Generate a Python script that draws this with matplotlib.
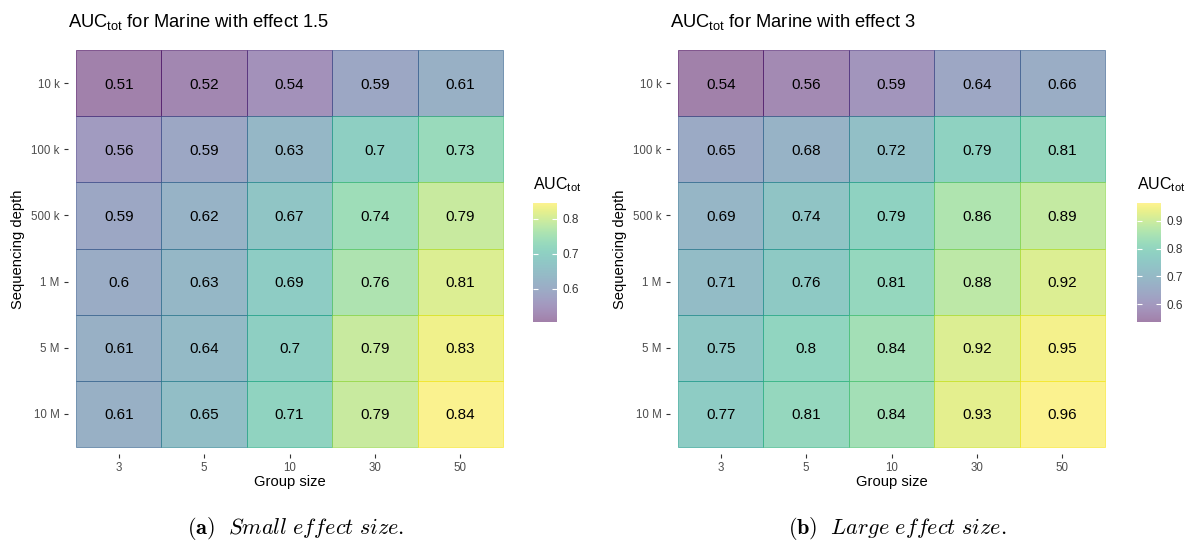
import matplotlib
matplotlib.use('Agg')
import matplotlib.pyplot as plt
import numpy as np
from matplotlib.patches import Rectangle
from matplotlib.colors import Normalize

plt.rcParams['font.family'] = ['Liberation Sans', 'DejaVu Sans']
plt.rcParams['mathtext.fontset'] = 'custom'
plt.rcParams['mathtext.rm'] = 'Liberation Sans'
plt.rcParams['mathtext.it'] = 'Liberation Sans:italic'
plt.rcParams['mathtext.bf'] = 'Liberation Sans:bold'

group_sizes = ['3', '5', '10', '30', '50']
depths = ['10 k', '100 k', '500 k', '1 M', '5 M', '10 M']

# rows = sequencing depth (top to bottom), cols = group size
auc_small = [
    [0.51, 0.52, 0.54, 0.59, 0.61],
    [0.56, 0.59, 0.63, 0.70, 0.73],
    [0.59, 0.62, 0.67, 0.74, 0.79],
    [0.60, 0.63, 0.69, 0.76, 0.81],
    [0.61, 0.64, 0.70, 0.79, 0.83],
    [0.61, 0.65, 0.71, 0.79, 0.84],
]
auc_large = [
    [0.54, 0.56, 0.59, 0.64, 0.66],
    [0.65, 0.68, 0.72, 0.79, 0.81],
    [0.69, 0.74, 0.79, 0.86, 0.89],
    [0.71, 0.76, 0.81, 0.88, 0.92],
    [0.75, 0.80, 0.84, 0.92, 0.95],
    [0.77, 0.81, 0.84, 0.93, 0.96],
]
ticks_small = [0.6, 0.7, 0.8]
ticks_large = [0.6, 0.7, 0.8, 0.9]

W, H = 1185, 542
fig = plt.figure(figsize=(W / 100, H / 100), dpi=100)
cmap = plt.get_cmap('viridis')
tick_col = '#4D4D4D'


def px(x0, y0, w, h):
    # pixel box (top-left origin) -> figure fraction rect
    return [x0 / W, 1 - (y0 + h) / H, w / W, h / H]


def heatmap(xoff, vals, effect, cbticks):
    arr = np.array(vals)
    lo, hi = arr.min() - 0.005, arr.max() + 0.005
    norm = Normalize(lo, hi)

    ax = fig.add_axes(px(67.5 + xoff, 43.4, 444, 410.2))
    for i, row in enumerate(vals):
        for j, v in enumerate(row):
            c = cmap(norm(v))
            ax.add_patch(Rectangle((j - 0.5, i - 0.5), 1, 1,
                                   facecolor=(c[0], c[1], c[2], 0.5),
                                   edgecolor=c, lw=0.4))
            ax.text(j, i, f'{v:g}', ha='center', va='center_baseline',
                    fontsize=11, color='black')
    ax.set_xlim(-0.6, 4.6)
    ax.set_ylim(5.6, -0.6)
    for s in ax.spines.values():
        s.set_visible(False)
    ax.set_xticks(range(len(group_sizes)))
    ax.set_xticklabels(group_sizes)
    ax.set_yticks(range(len(depths)))
    ax.set_yticklabels(depths)
    ax.tick_params(colors='#333333', labelcolor=tick_col, labelsize=8.3,
                   length=2.8, width=0.8, pad=3)

    fig.text((68 + xoff) / W, 1 - 26.5 / H,
             r'AUC$_{\mathrm{tot}}$ for Marine with effect ' + effect,
             fontsize=13.2, ha='left', va='baseline')
    fig.text((18 + xoff) / W, 1 - 249 / H, 'Sequencing depth', rotation=90,
             fontsize=10.6, ha='center', va='center')
    fig.text((289.5 + xoff) / W, 1 - 482 / H, 'Group size',
             fontsize=10.6, ha='center', va='center')

    # colour bar
    cbx = 533 + xoff + (2 if xoff else 0)
    cax = fig.add_axes(px(cbx, 203, 24, 119))
    grad = np.linspace(lo, hi, 300).reshape(-1, 1)
    cax.imshow(grad, aspect='auto', cmap=cmap, norm=norm, alpha=0.5,
               origin='lower', extent=[0, 1, lo, hi])
    cax.set_xticks([])
    cax.set_yticks(cbticks)
    cax.set_yticklabels([f'{t:g}' for t in cbticks])
    cax.tick_params(axis='y', direction='in', left=True, right=True,
                    labelleft=False, labelright=True, color='white',
                    length=3.5, width=0.8, labelsize=8.5,
                    labelcolor='#333333', pad=4)
    for s in cax.spines.values():
        s.set_visible(False)
    fig.text(cbx / W, 1 - 189 / H, r'AUC$_{\mathrm{tot}}$', fontsize=11.5,
             ha='left', va='baseline')


heatmap(0, auc_small, '1.5', ticks_small)
heatmap(602, auc_large, '3', ticks_large)

fig.text(296 / W, 1 - 529 / H,
         r'$\mathbf{(a)}\ \ \mathit{Small\ effect\ size.}$',
         fontsize=16, ha='center', va='center', math_fontfamily='cm')
fig.text(897 / W, 1 - 529 / H,
         r'$\mathbf{(b)}\ \ \mathit{Large\ effect\ size.}$',
         fontsize=16, ha='center', va='center', math_fontfamily='cm')

fig.savefig('out.png', dpi=100)
